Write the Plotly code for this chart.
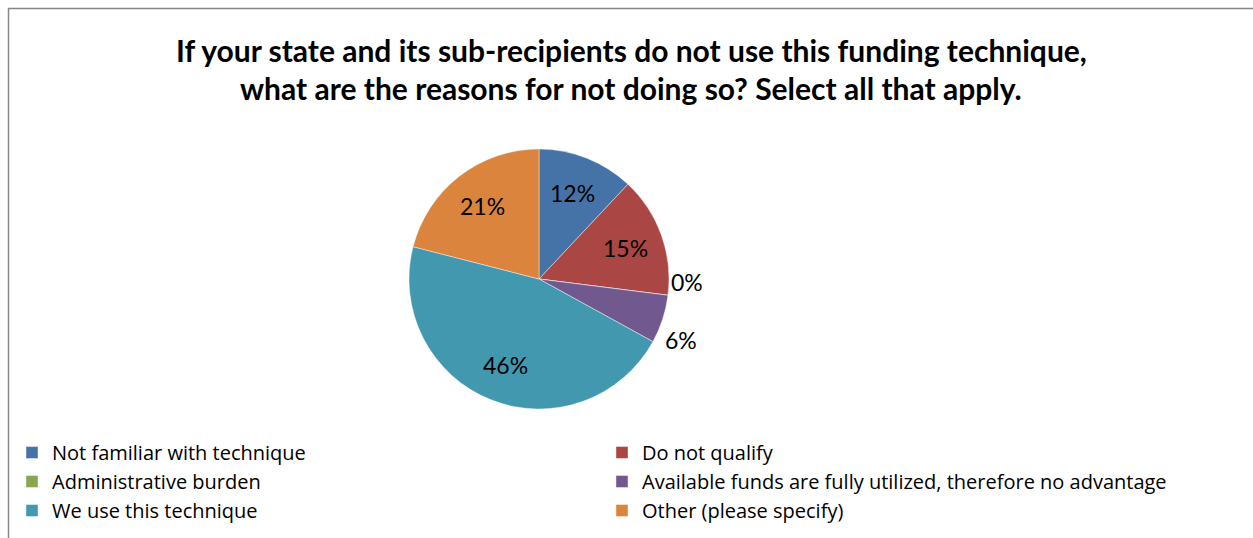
import math
import plotly.graph_objects as go

# Survey responses (percent of respondents)
reasons = [
    "Not familiar with technique",
    "Do not qualify",
    "Administrative burden",
    "Available funds are fully utilized, therefore no advantage",
    "We use this technique",
    "Other (please specify)",
]
shares = [12, 15, 0, 6, 46, 21]
colors = ["#4572A7", "#AA4643", "#89A54E", "#71588F", "#4198AF", "#DB843D"]
label_outside = [False, False, True, True, False, False]

W, H = 1253, 538
cx, cy, r = 539, 279, 130  # pie centre and radius in pixels
FONT = "Lato, Open Sans, sans-serif"
LEGEND_FONT = "Open Sans, Noto Sans, sans-serif"

fig = go.Figure(
    go.Pie(
        labels=reasons,
        values=shares,
        sort=False,
        direction="clockwise",
        rotation=0,
        marker=dict(colors=colors, line=dict(color="rgba(255,255,255,0.6)", width=0.7)),
        textinfo="none",
        showlegend=True,
        domain=dict(x=[(cx - r) / W, (cx + r) / W], y=[(H - cy - r) / H, (H - cy + r) / H]),
        hoverinfo="label+percent",
    )
)

# Percentage labels at each slice's mid-angle; outside labels that crowd
# each other are spread apart vertically.
total = sum(shares)
start = 0.0
placed = []
for val, outside in zip(shares, label_outside):
    mid = (start + val / 2) / total * 2 * math.pi
    start += val
    rr = r * (1.15 if outside else 0.71)
    placed.append([val, cx + rr * math.sin(mid), cy - rr * math.cos(mid), outside])

min_gap = 58
outer = sorted([p for p in placed if p[3]], key=lambda p: p[2])
for a, b in zip(outer, outer[1:]):
    gap = b[2] - a[2]
    if gap < min_gap:
        shift = (min_gap - gap) / 2
        a[2] -= shift
        b[2] += shift

for val, px, py, _ in placed:
    fig.add_annotation(
        text=f"{val}%",
        x=px / W, y=1 - py / H, xref="paper", yref="paper",
        xanchor="center", yanchor="middle", showarrow=False,
        font=dict(family=FONT, size=23, color="#000000"),
    )

title_lines = [
    "If your state and its sub-recipients do not use this funding technique,",
    "what are the reasons for not doing so? Select all that apply.",
]
for i, line in enumerate(title_lines):
    fig.add_annotation(
        text="<b>" + line + "</b>",
        x=631 / W, y=1 - (50 + 38 * i) / H,
        xref="paper", yref="paper", xanchor="center", yanchor="middle",
        showarrow=False,
        font=dict(family=FONT, size=30, color="#000000"),
    )

# Chart-area frame
fig.add_shape(
    type="rect", xref="paper", yref="paper",
    x0=8.5 / W, x1=1.01, y0=-0.01, y1=1 - 8.5 / H,
    line=dict(color="#878787", width=1.5), fillcolor="rgba(0,0,0,0)",
)

fig.update_layout(
    width=W, height=H,
    margin=dict(l=0, r=0, t=0, b=0),
    paper_bgcolor="white",
    plot_bgcolor="white",
    legend=dict(
        orientation="h",
        x=12 / W, y=1 - 433 / H,
        xanchor="left", yanchor="top",
        entrywidth=545, entrywidthmode="pixels",
        font=dict(family=LEGEND_FONT, size=20, color="#000000"),
        itemclick=False, itemdoubleclick=False,
    ),
)

fig.write_html("out.html")
